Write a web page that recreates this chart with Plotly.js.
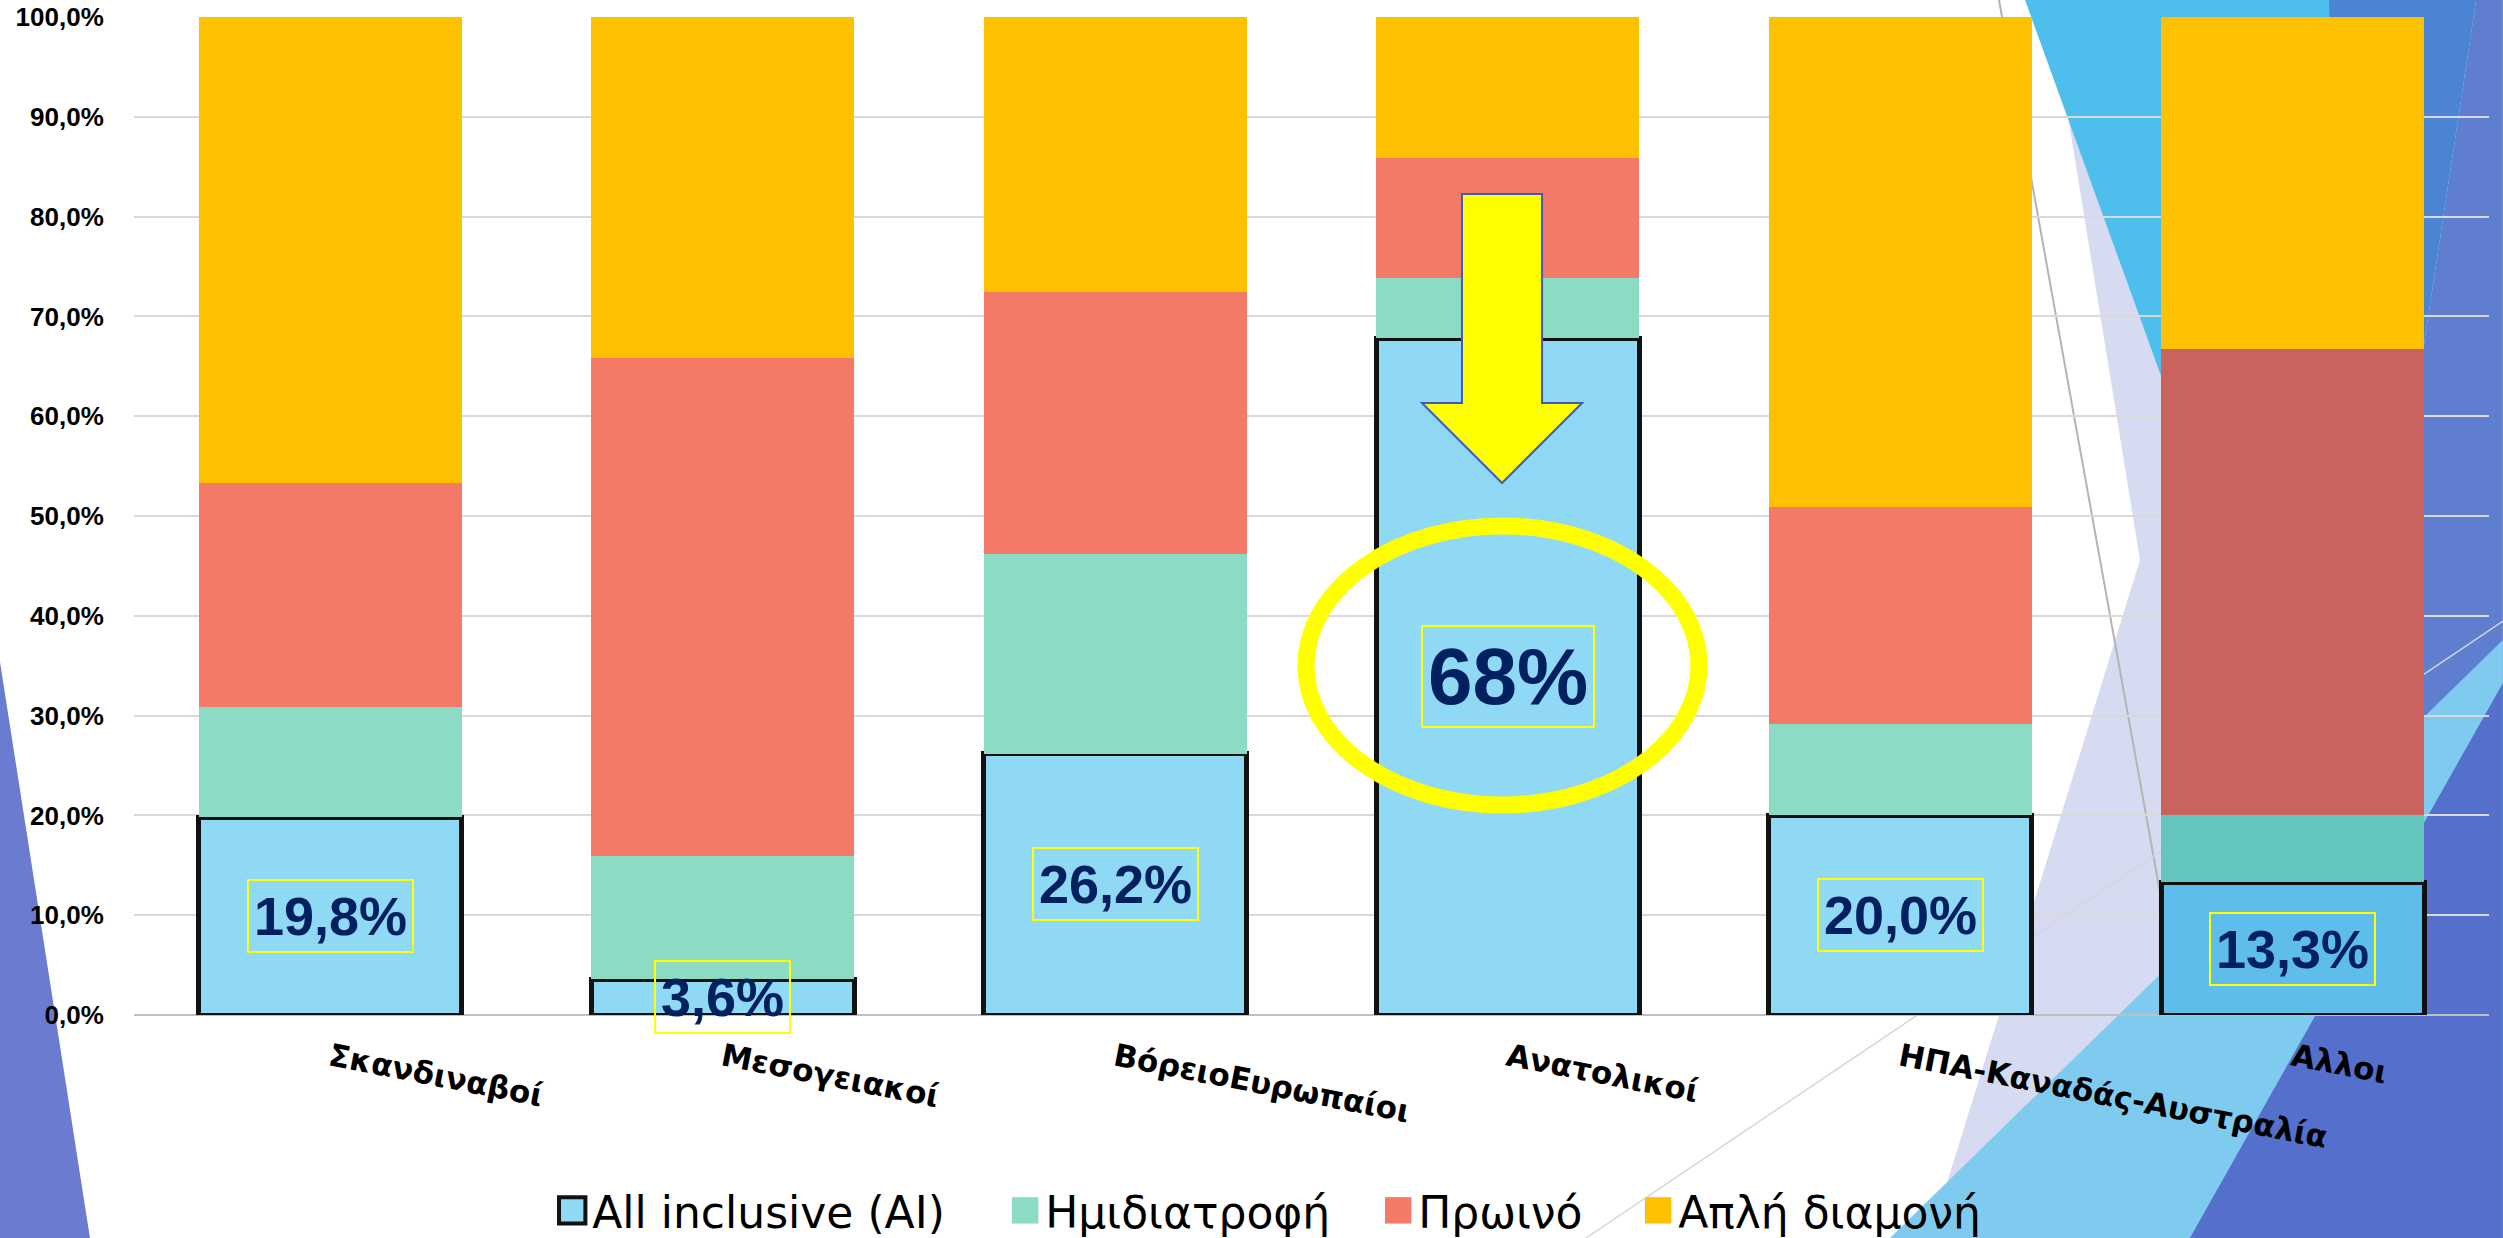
<!DOCTYPE html>
<html>
<head>
<meta charset="utf-8">
<script src="https://cdn.plot.ly/plotly-3.0.1.min.js"></script>
<style>
  html, body { margin: 0; padding: 0; background: #ffffff; }
  #chart { width: 2503px; height: 1238px; }
</style>
</head>
<body>
<div id="chart"></div>
<script>
// categories and shares (%)
let categories = ["Σκανδιναβοί", "Μεσογειακοί", "ΒόρειοΕυρωπαίοι", "Ανατολικοί", "ΗΠΑ-Καναδάς-Αυστραλία", "Αλλοι"];
let allInclusive = [19.8, 3.6, 26.2, 67.8, 20.0, 13.3];
let halfBoard = [11.1, 12.3, 20.0, 6.0, 9.2, 6.7];
let breakfast = [22.4, 49.9, 26.2, 12.1, 21.7, 46.7];
let roomOnly = [46.7, 34.2, 27.6, 14.1, 49.1, 33.3];
let aiLabels = ["19,8%", "3,6%", "26,2%", "68%", "20,0%", "13,3%"];

let W = 2503, H = 1238;
let M = { l: 134, r: 14, t: 17, b: 223 };

// pixel -> paper helpers for the slide decorations
function px(x) { return (x - M.l) / (W - M.l - M.r); }
function py(y) { return (H - M.b - y) / (H - M.t - M.b); }
function poly(pts) {
    return "M" + pts.map(p => px(p[0]).toFixed(4) + "," + py(p[1]).toFixed(4)).join("L") + "Z";
}
function deco(pts, color, layer) {
    return { type: "path", xref: "paper", yref: "paper", path: poly(pts),
             fillcolor: color, line: { width: 0 }, layer: layer || "below" };
}

// the last bar sits on the blue slide background, so it looks tinted
function tint(n, normal, last) {
    let c = [];
    for (let i = 0; i < n; i++) c.push(i === n - 1 ? last : normal);
    return c;
}
let n = categories.length;

let trace1 = {
    type: "bar",
    name: "All inclusive (AI)",
    x: categories,
    y: allInclusive,
    marker: { color: tint(n, "#8FD9F4", "#5FBDEC"), line: { color: "#111111", width: 5 } },
    hoverinfo: "none"
};
let trace2 = {
    type: "bar",
    name: "Ημιδιατροφή",
    x: categories,
    y: halfBoard,
    marker: { color: tint(n, "#8CDBC5", "#63C6BF"), line: { width: 0 } },
    hoverinfo: "none"
};
let trace3 = {
    type: "bar",
    name: "Πρωινό",
    x: categories,
    y: breakfast,
    marker: { color: tint(n, "#F47A68", "#CA625E"), line: { width: 0 } },
    hoverinfo: "none"
};
let trace4 = {
    type: "bar",
    name: "Απλή διαμονή",
    x: categories,
    y: roomOnly,
    marker: { color: "#FFC000", line: { width: 0 } },
    hoverinfo: "none"
};

let annotations = categories.map((c, i) => ({
    x: c,
    y: allInclusive[i] / 2,
    xref: "x",
    yref: "y",
    text: aiLabels[i],
    showarrow: false,
    font: { family: "Liberation Sans, Arial, sans-serif", size: aiLabels[i] === "68%" ? 80 : 54, color: "#002060", weight: "bold" },
    bordercolor: "#FFFF00",
    borderwidth: 2,
    borderpad: 5
}));

let shapes = [
    // left slide band
    deco([[0, 662], [90, 1238], [0, 1238]], "#6A7BD0"),
    // right slide facets
    deco([[2049, 0], [2200, 0], [2200, 1238], [1930, 1238], [2140, 560]], "#D6DBF1"),
    deco([[2476, 0], [2503, 0], [2503, 1238], [2300, 1238], [2343, 879]], "#5F7ECF"),
    deco([[2025, 0], [2476, 0], [2343, 879]], "#4EBFEC"),
    deco([[2329, 0], [2476, 0], [2343, 879]], "#4A84D3"),
    deco([[1890, 1238], [2503, 640], [2503, 1238]], "#7FCBF0"),
    deco([[2190, 1238], [2503, 683], [2503, 1238]], "#5470CC"),
    { type: "line", xref: "paper", yref: "paper", x0: px(1999), y0: py(0), x1: px(2165), y1: py(920),
      line: { color: "#B4B4B4", width: 2 }, layer: "below" },
    { type: "line", xref: "paper", yref: "paper", x0: px(1586), y0: py(1238), x1: px(2503), y1: py(621),
      line: { color: "#D4D4DC", width: 1.5 }, layer: "below" },
    // highlight on the eastern group
    { type: "circle", xref: "paper", yref: "paper", x0: px(1306), x1: px(1699), y0: py(805), y1: py(526),
      line: { color: "#FFFF00", width: 17 }, fillcolor: "rgba(0,0,0,0)", layer: "above" },
    { type: "path", xref: "paper", yref: "paper",
      path: poly([[1462, 194], [1542, 194], [1542, 403], [1582, 403], [1502, 483], [1422, 403], [1462, 403]]),
      fillcolor: "#FFFF00", line: { color: "#3F5BBF", width: 2 }, layer: "above" }
];

let layout = {
    width: W,
    height: H,
    margin: M,
    paper_bgcolor: "#ffffff",
    plot_bgcolor: "rgba(0,0,0,0)",
    barmode: "stack",
    bargap: 0.33,
    separators: ", ",
    showlegend: true,
    legend: {
        orientation: "h",
        xref: "container",
        yref: "container",
        x: 0.5,
        xanchor: "center",
        y: 0.022,
        yanchor: "middle",
        traceorder: "normal",
        font: { family: "DejaVu Sans, sans-serif", size: 44, color: "#000000" },
        bgcolor: "rgba(0,0,0,0)"
    },
    xaxis: {
        type: "category",
        tickangle: 11,
        ticks: "outside",
        ticklen: 12,
        tickcolor: "rgba(0,0,0,0)",
        tickfont: { family: "DejaVu Sans, sans-serif", size: 31, color: "#000000", weight: "bold" },
        showgrid: false,
        showline: false
    },
    yaxis: {
        range: [0, 100],
        dtick: 10,
        tickformat: ".1f",
        ticksuffix: "%",
        ticks: "outside",
        ticklen: 24,
        tickcolor: "rgba(0,0,0,0)",
        tickfont: { family: "Liberation Sans, Arial, sans-serif", size: 26, color: "#000000", weight: "bold" },
        gridcolor: "#D9D9D9",
        gridwidth: 2,
        zeroline: true,
        zerolinecolor: "#BFBFBF",
        zerolinewidth: 2,
        showline: false
    },
    shapes: shapes,
    annotations: annotations
};

// left edge of each legend swatch on the slide (page px)
let legendSwatchX = [559, 1012, 1385, 1645];

Plotly.newPlot("chart", [trace1, trace2, trace3, trace4], layout, { staticPlot: true }).then(function () {
    // let the legend entries spread beyond the box Plotly measured
    document.querySelectorAll(".legend [clip-path]").forEach(function (el) {
        el.removeAttribute("clip-path");
    });
    // larger legend swatches spread out like the slide legend
    document.querySelectorAll(".legend .traces").forEach(function (g, i) {
        let p = g.querySelector(".legendpoints path");
        if (!p) return;
        p.setAttribute("transform", "translate(20,0) scale(2.2)");
        p.style.vectorEffect = "non-scaling-stroke";
        p.style.strokeWidth = i === 0 ? "4px" : p.style.strokeWidth;
        let left = p.getBoundingClientRect().left;
        let m = /translate\(([-\d.]+)[ ,]+([-\d.]+)\)/.exec(g.getAttribute("transform") || "");
        if (!m || legendSwatchX[i] === undefined) return;
        let tx = parseFloat(m[1]) + (legendSwatchX[i] - left);
        g.setAttribute("transform", "translate(" + tx + "," + m[2] + ")");
    });
});
</script>
</body>
</html>
